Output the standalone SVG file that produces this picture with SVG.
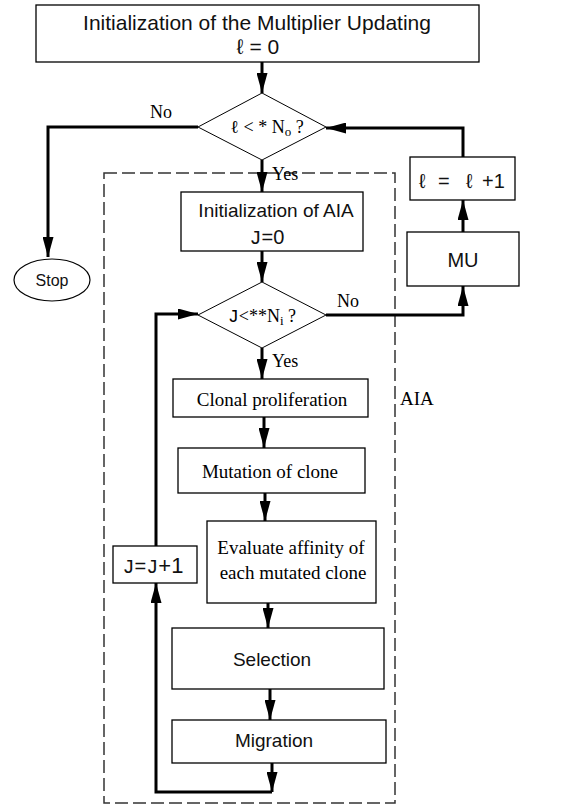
<svg xmlns="http://www.w3.org/2000/svg" width="565" height="805" viewBox="0 0 565 805">
<defs>
<marker id="ah" viewBox="0 0 20 11" refX="20" refY="5.5" markerWidth="20" markerHeight="11" markerUnits="userSpaceOnUse" orient="auto">
<path d="M0,0 L20,5.5 L0,11 z" fill="#000"/>
</marker>
<style>
.box{fill:#fff;stroke:#000;stroke-width:1.3}
.dia{fill:#fff;stroke:#000;stroke-width:1}
.con{fill:none;stroke:#000;stroke-width:3;marker-end:url(#ah)}
.sans{font-family:"Liberation Sans",Arial,sans-serif;fill:#111}
.serif{font-family:"Liberation Serif","Times New Roman",serif;fill:#000}
.mono{font-family:"Liberation Mono","Courier New",monospace}
</style>
</defs>
<rect x="0" y="0" width="565" height="805" fill="#fff"/>
<rect id="aia-frame" x="104" y="173" width="291" height="630" fill="none" stroke="#333" stroke-width="1.5" stroke-dasharray="13 5"/>
<g id="connectors">
<path class="con" d="M262,62 V93"/>
<path class="con" d="M198,127 H48 V257"/>
<path class="con" d="M463,157 V128 H326"/>
<path class="con" d="M262,160 V192"/>
<path class="con" d="M262,251 V282"/>
<path class="con" d="M326,315 H463 V286"/>
<path class="con" d="M463,232 V200"/>
<path class="con" d="M156,546 V314 H198"/>
<path class="con" d="M262,348 V379"/>
<path class="con" d="M264,417 V448"/>
<path class="con" d="M265,493 V521"/>
<path class="con" d="M268,603 V628"/>
<path class="con" d="M270,689 V720"/>
<path class="con" d="M272,763 V792"/>
<path class="con" d="M272,792 H156 V583"/>
</g>
<g id="init-mu">
<rect class="box" x="36" y="5" width="443" height="57"/>
<text class="sans" x="257" y="30" font-size="21" text-anchor="middle">Initialization of the Multiplier Updating</text>
<text class="sans" x="258" y="54" font-size="21" text-anchor="middle">ℓ = 0</text>
</g>
<g id="cond-outer">
<polygon class="dia" points="262,93 326,127 262,160 198,127"/>
<text class="serif" x="267" y="133" font-size="18" text-anchor="middle">ℓ &lt; * N<tspan font-size="13" dy="3">o</tspan><tspan dy="-3"> ?</tspan></text>
</g>
<g id="label-no1"><text class="serif" x="161" y="118" font-size="18" text-anchor="middle">No</text></g>
<g id="stop">
<ellipse cx="52" cy="280" rx="38" ry="21" fill="#fff" stroke="#000" stroke-width="1.2"/>
<text class="sans" x="52" y="286" font-size="16" text-anchor="middle">Stop</text>
</g>
<g id="label-yes1"><text class="serif" x="272" y="180" font-size="18">Yes</text></g>
<g id="inc-l">
<rect class="box" x="410" y="157" width="105" height="43"/>
<text class="sans" y="188" font-size="20"><tspan x="419">ℓ</tspan><tspan x="438">=</tspan><tspan x="466">ℓ</tspan><tspan x="482">+1</tspan></text>
</g>
<g id="mu">
<rect class="box" x="407" y="232" width="112" height="54"/>
<text class="sans" x="463" y="267" font-size="20" text-anchor="middle">MU</text>
</g>
<g id="init-aia">
<rect class="box" x="181" y="192" width="182" height="59"/>
<text class="sans" x="276" y="217" font-size="19" text-anchor="middle">Initialization of AIA</text>
<text class="sans" x="267" y="244" font-size="20" text-anchor="middle"><tspan class="mono">J</tspan>=0</text>
</g>
<g id="cond-inner">
<polygon class="dia" points="262,282 326,315 262,348 198,315"/>
<text class="serif" x="262" y="322" font-size="18" text-anchor="middle"><tspan class="mono">J</tspan>&lt;**N<tspan font-size="13" dy="3">i</tspan><tspan dy="-3"> ?</tspan></text>
</g>
<g id="label-no2"><text class="serif" x="337" y="307" font-size="18">No</text></g>
<g id="label-yes2"><text class="serif" x="272" y="367" font-size="18">Yes</text></g>
<g id="clonal">
<rect class="box" x="173" y="379" width="195" height="38"/>
<text class="serif" x="272" y="406" font-size="19" text-anchor="middle">Clonal proliferation</text>
</g>
<g id="label-aia"><text class="serif" x="400" y="405" font-size="19">AIA</text></g>
<g id="mutation">
<rect class="box" x="178" y="448" width="187" height="45"/>
<text class="serif" x="270" y="478" font-size="19" text-anchor="middle">Mutation of clone</text>
</g>
<g id="evaluate">
<rect class="box" x="207" y="521" width="169" height="82"/>
<text class="serif" x="291" y="554" font-size="19" text-anchor="middle">Evaluate affinity of</text>
<text class="serif" x="293" y="579" font-size="19" text-anchor="middle">each mutated clone</text>
</g>
<g id="inc-j">
<rect class="box" x="113" y="546" width="84" height="37"/>
<text class="sans" x="153" y="573" font-size="20" text-anchor="middle"><tspan class="mono">J</tspan>=<tspan class="mono">J</tspan><tspan font-size="22">+1</tspan></text>
</g>
<g id="selection">
<rect class="box" x="172" y="628" width="212" height="61"/>
<text class="sans" x="272" y="666" font-size="19" text-anchor="middle">Selection</text>
</g>
<g id="migration">
<rect class="box" x="172" y="720" width="214" height="43"/>
<text class="sans" x="274" y="747" font-size="19" text-anchor="middle">Migration</text>
</g>
</svg>
